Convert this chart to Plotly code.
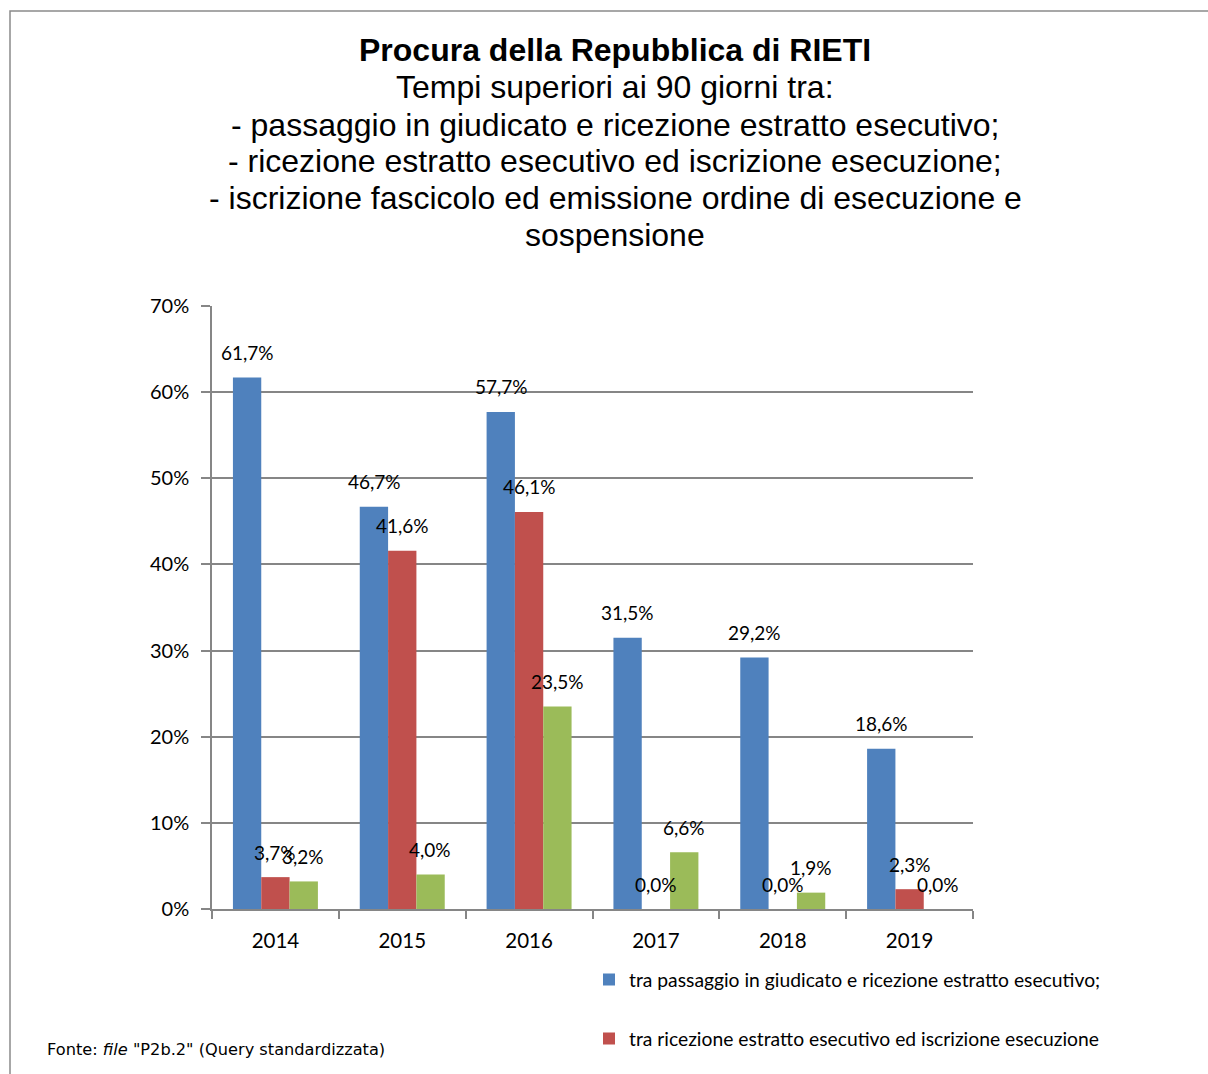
import plotly.graph_objects as go

years = ["2014", "2015", "2016", "2017", "2018", "2019"]
s1_name = "tra passaggio in giudicato e ricezione estratto esecutivo;"
s2_name = "tra ricezione estratto esecutivo ed iscrizione esecuzione"
s3_name = "tra iscrizione fascicolo ed emissione ordine di esecuzione e sospensione"
s1 = [61.7, 46.7, 57.7, 31.5, 29.2, 18.6]
s2 = [3.7, 41.6, 46.1, 0.0, 0.0, 2.3]
s3 = [3.2, 4.0, 23.5, 6.6, 1.9, 0.0]
colors = ["#4F81BD", "#C0504D", "#9BBB59"]
title_lines = [
    "<b>Procura della Repubblica di RIETI</b>",
    "Tempi superiori ai 90 giorni tra:",
    "- passaggio in giudicato e ricezione estratto esecutivo;",
    "- ricezione estratto esecutivo ed iscrizione esecuzione;",
    "- iscrizione fascicolo ed emissione ordine di esecuzione e",
    "sospensione",
]
source_text = 'Fonte: <i>file</i> "P2b.2" (Query standardizzata)'

W, H = 1208, 1074
L, R, T, B = 212, 235, 306, 165
pw, ph = W - L - R, H - T - B

def fmt(v):
    return f"{v:.1f}".replace(".", ",") + "%"

def px2x(px):
    return (px - L) / pw

def px2y(py):
    return (H - B - py) / ph

fig = go.Figure()
series = [(s1_name, s1), (s2_name, s2), (s3_name, s3)]
legends = ["legend", "legend2", "legend3"]
for i, (name, vals) in enumerate(series):
    fig.add_trace(go.Bar(x=years, y=vals, name=name, marker_color=colors[i],
                         marker_line_width=0, legend=legends[i]))

label_font = dict(family="Lato, Carlito, sans-serif", size=19, color="#000")
offsets = [-28, 0, 28]
for i, (name, vals) in enumerate(series):
    for j, v in enumerate(vals):
        fig.add_annotation(x=j, y=v, text=fmt(v), showarrow=False,
                           xshift=offsets[i], yshift=25, yanchor="middle",
                           font=label_font)

title_y = [50, 87, 125, 161, 198, 235]
for line, ty in zip(title_lines, title_y):
    fig.add_annotation(xref="paper", yref="paper", x=px2x(615), y=px2y(ty),
                       xanchor="center", yanchor="middle", showarrow=False, text=line,
                       font=dict(family="Liberation Sans, Arial, sans-serif", size=32, color="#000"))

fig.add_annotation(xref="paper", yref="paper", x=px2x(45), y=px2y(1049),
                   xanchor="left", yanchor="middle", showarrow=False,
                   text=source_text,
                   font=dict(family="DejaVu Sans, Verdana, sans-serif", size=16.2, color="#000"))

fig.add_shape(type="rect", xref="paper", yref="paper",
              x0=px2x(10), x1=px2x(1220), y0=px2y(1090), y1=px2y(11),
              line=dict(color="#8a8a8a", width=1.5), fillcolor="rgba(0,0,0,0)", layer="below")

leg_font = dict(family="Lato, Carlito, sans-serif", size=19.3, color="#000")
lx = px2x(589)
fig.update_layout(
    width=W, height=H,
    margin=dict(l=L, r=R, t=T, b=B, autoexpand=False),
    paper_bgcolor="white", plot_bgcolor="white",
    barmode="group", bargap=0.33, bargroupgap=0,
    separators=",.",
    showlegend=True,
    legend=dict(x=lx, y=px2y(980), xanchor="left", yanchor="middle",
                font=leg_font, bgcolor="rgba(0,0,0,0)"),
    legend2=dict(x=lx, y=px2y(1039), xanchor="left", yanchor="middle",
                 font=leg_font, bgcolor="rgba(0,0,0,0)"),
    legend3=dict(x=lx, y=px2y(1098), xanchor="left", yanchor="middle",
                 font=leg_font, bgcolor="rgba(0,0,0,0)"),
    xaxis=dict(type="category", range=[-0.5, 5.5], showline=True, linecolor="#868686",
               linewidth=1.5, ticks="outside", tickson="boundaries", ticklen=8,
               tickcolor="#868686", tickwidth=1.5, showgrid=False, ticklabelstandoff=13,
               tickfont=dict(family="Lato, Carlito, sans-serif", size=20.5, color="#000")),
    yaxis=dict(range=[0, 70], dtick=10, ticksuffix="%", showline=True,
               linecolor="#868686", linewidth=1.5, ticks="outside", ticklen=9,
               tickcolor="#868686", tickwidth=1.5, showgrid=True, gridcolor="#868686",
               gridwidth=1.5, zeroline=False, ticklabelstandoff=8,
               tickfont=dict(family="Lato, Carlito, sans-serif", size=20, color="#000")),
)

fig.write_html("out.html", config={"displayModeBar": False},
               post_script="document.body.style.margin='0';")
